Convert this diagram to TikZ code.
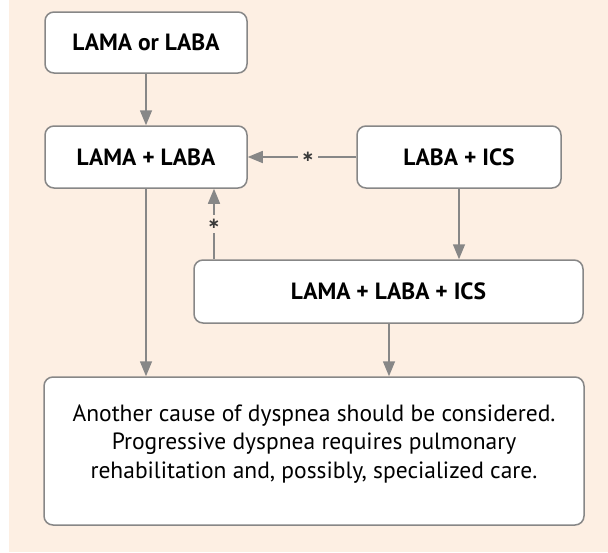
\documentclass[tikz,border=0pt]{standalone}
\usepackage{fontspec}
\setmainfont{PT Sans}
\newfontfamily\starfont{DejaVu Sans}
\usetikzlibrary{arrows.meta}
\definecolor{peach}{HTML}{FDEFE3}
\definecolor{edgegrey}{HTML}{878787}
\definecolor{stargrey}{HTML}{3A3A3A}
\tikzset{
  x=1pt,y=1pt,
  box/.style={draw=edgegrey, line width=1.5pt, fill=white, rounded corners=9pt,
    inner sep=0pt, align=center},
  lbl/.style={font=\fontsize{23.5}{28}\selectfont\bfseries},
  arr/.style={draw=edgegrey, line width=1.5pt, -{Triangle[length=15pt,width=12pt]}},
  star/.style={fill=peach, inner sep=4pt, text=stargrey, font=\starfont\bfseries\fontsize{15}{15}\selectfont}
}
\begin{document}
\begin{tikzpicture}
\useasboundingbox (0,0) rectangle (608,-552);
\fill[peach] (9,0) rectangle (608,-552);
\node[box,lbl,minimum width=202pt,minimum height=61pt] (b1) at (146,-42.5) {LAMA or LABA};
\node[box,lbl,minimum width=202pt,minimum height=62pt] (b2) at (146,-157) {LAMA + LABA};
\node[box,lbl,minimum width=204pt,minimum height=62pt] (b3) at (459,-157) {LABA + ICS};
\node[box,lbl,minimum width=389pt,minimum height=63pt] (b4) at (388.5,-291.5) {LAMA + LABA + ICS};
\node[box,minimum width=540pt,minimum height=148pt,font=\fontsize{23.5}{28.5}\selectfont] (b5) at (314,-451)
  {Another cause of dyspnea should be considered.\\Progressive dyspnea requires pulmonary\\rehabilitation and, possibly, specialized care.\\[-9pt]\mbox{}};
\coordinate (xa) at (214,0);
\coordinate (xb) at (389,0);
\draw[arr] (b1) -- (b2);
\draw[arr] (b3) -- node[star,pos=0.445]{∗} (b2);
\draw[arr] (b4.north -| xa) -- node[star]{∗} (b2.south -| xa);
\draw[arr] (b3.south) -- (b4.north -| b3.south);
\draw[arr] (b2) -- (b5.north -| b2);
\draw[arr] (b4.south -| xb) -- (b5.north -| xb);
\end{tikzpicture}
\end{document}
